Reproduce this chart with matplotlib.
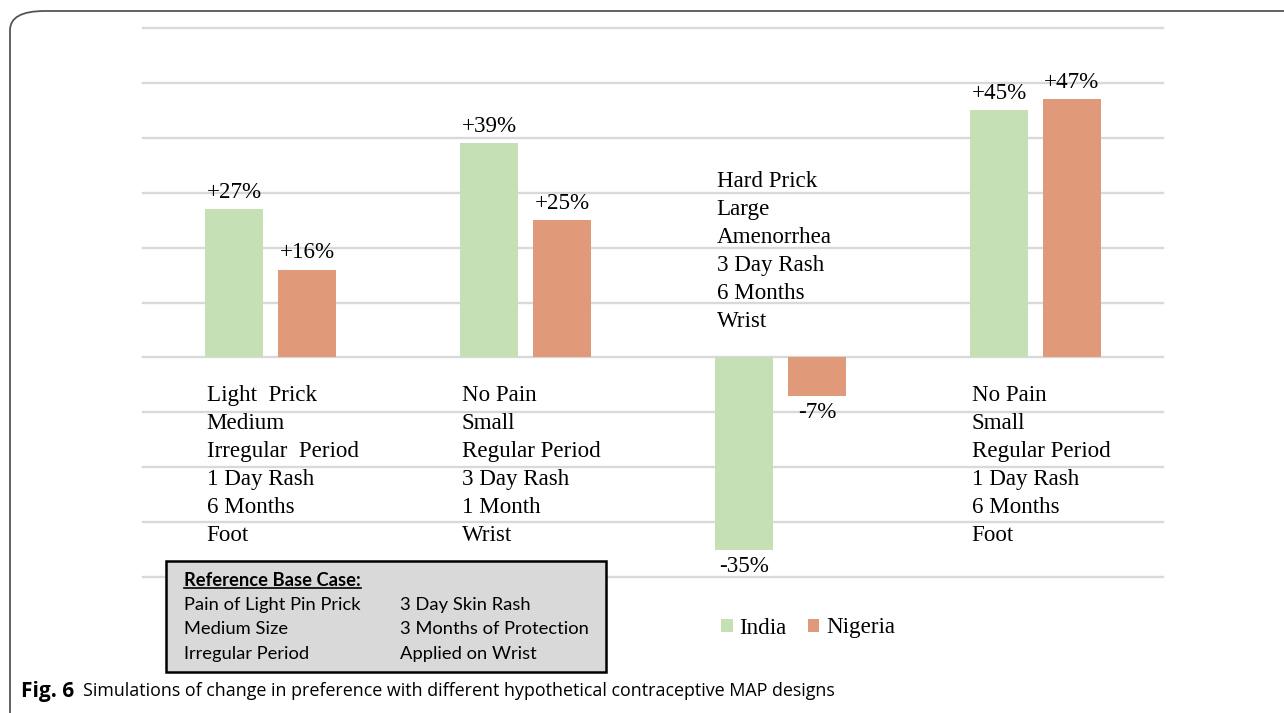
import matplotlib
matplotlib.use("Agg")
import matplotlib.pyplot as plt
import numpy as np
from matplotlib.patches import FancyBboxPatch, Rectangle
from matplotlib.lines import Line2D

# Data
countries = ["India", "Nigeria"]
india = [27, 39, -35, 45]
nigeria = [16, 25, -7, 47]
designs = [
    ["Light  Prick", "Medium", "Irregular  Period", "1 Day Rash", "6 Months", "Foot"],
    ["No Pain", "Small", "Regular Period", "3 Day Rash", "1 Month", "Wrist"],
    ["Hard Prick", "Large", "Amenorrhea", "3 Day Rash", "6 Months", "Wrist"],
    ["No Pain", "Small", "Regular Period", "1 Day Rash", "6 Months", "Foot"],
]
base_case_title = "Reference Base Case:"
base_case_left = ["Pain of Light Pin Prick", "Medium Size", "Irregular Period"]
base_case_right = ["3 Day Skin Rash", "3 Months of Protection", "Applied on Wrist"]
caption_bold = "Fig. 6"
caption_text = "Simulations of change in preference with different hypothetical contraceptive MAP designs"

GREEN = "#c5e0b4"
ORANGE = "#e09a7a"
GRID = "#d9d9d9"
SERIF = "Liberation Serif"
FS = 16.6

W, H = 1284, 713
fig = plt.figure(figsize=(W / 100, H / 100), dpi=100)

# rounded frame running off the right and bottom edges
frame = FancyBboxPatch(
    (10 / W, -40 / H), 1400 / W, (H - 11 + 40) / H,
    boxstyle="round,pad=0,rounding_size=0.027",
    transform=fig.transFigure, facecolor="none", edgecolor="#555555", linewidth=1.3,
)
fig.patches.append(frame)

ax = fig.add_axes([143 / W, 1 - 577 / H, 1020 / W, 549 / H])
x = np.arange(len(india))
width = 0.227
off = 0.143
bars_in = ax.bar(x - off, india, width, color=GREEN, label=countries[0], zorder=2)
bars_ng = ax.bar(x + off, nigeria, width, color=ORANGE, label=countries[1], zorder=2)

ax.set_xlim(-0.5, 3.5)
ax.set_ylim(-40, 60)
ax.set_yticks(np.arange(-40, 61, 10))
ax.grid(axis="y", color=GRID, linewidth=1.7, zorder=0)
for gl in ax.get_ygridlines():
    gl.set_clip_on(False)
ax.tick_params(left=False, bottom=False, labelleft=False, labelbottom=False)
for s in ax.spines.values():
    s.set_visible(False)

# value labels
for bars, vals in [(bars_in, india), (bars_ng, nigeria)]:
    for b, v in zip(bars, vals):
        dy = 17 if v > 0 else -17
        ax.annotate(f"{v:+d}%" if v > 0 else f"{v}%",
                    (b.get_x() + b.get_width() / 2, v),
                    xytext=(0, dy * 0.72), textcoords="offset points",
                    ha="center", va="center", fontsize=FS, family=SERIF)

# design attribute labels
for i, lines in enumerate(designs):
    left = x[i] - off - width / 2
    for j, line in enumerate(lines):
        if india[i] > 0:
            dy = -(38 + 28 * j)
        else:
            dy = 176 - 28 * j
        ax.annotate(line, (left, 0), xytext=(1.5 * 0.72, dy * 0.72), textcoords="offset points",
                    ha="left", va="center", fontsize=FS, family=SERIF)

# legend
fig.legend(handles=[bars_in, bars_ng], labels=countries, loc="center",
           bbox_to_anchor=(808 / W, 1 - 628 / H), ncol=2, frameon=False,
           prop={"family": SERIF, "size": FS}, handlelength=0.5, handleheight=0.5,
           handletextpad=0.3, columnspacing=0.9)

# base case box
BFS = 13.2
box = Rectangle((166 / W, 1 - 672 / H), 440 / W, 111 / H, transform=fig.transFigure,
                facecolor="#d9d9d9", edgecolor="black", linewidth=1.8)
fig.patches.append(box)
t = fig.text(184 / W, 1 - 581 / H, base_case_title, fontsize=BFS, family="Lato",
             weight="bold", va="center", ha="left")
for j, (l, r) in enumerate(zip(base_case_left, base_case_right)):
    yy = 1 - (605 + 24.5 * j) / H
    fig.text(184 / W, yy, l, fontsize=BFS, family="Lato", va="center", ha="left")
    fig.text(400 / W, yy, r, fontsize=BFS, family="Lato", va="center", ha="left")

fig.canvas.draw()
r = fig.canvas.get_renderer()
bb = t.get_window_extent(r).transformed(fig.transFigure.inverted())
fig.lines.append(Line2D([bb.x0, bb.x1], [bb.y0 + 1.5 / H, bb.y0 + 1.5 / H],
                        transform=fig.transFigure, color="black", linewidth=1.2))

# caption
cb = fig.text(21 / W, 1 - 691 / H, caption_bold, fontsize=15, family="Open Sans",
              weight="bold", va="center", ha="left")
fig.canvas.draw()
bb = cb.get_window_extent(r).transformed(fig.transFigure.inverted())
fig.text(bb.x1 + 9 / W, 1 - 691 / H, caption_text, fontsize=12.85, family="Open Sans",
         va="center", ha="left")

fig.savefig("out.png", dpi=100)
